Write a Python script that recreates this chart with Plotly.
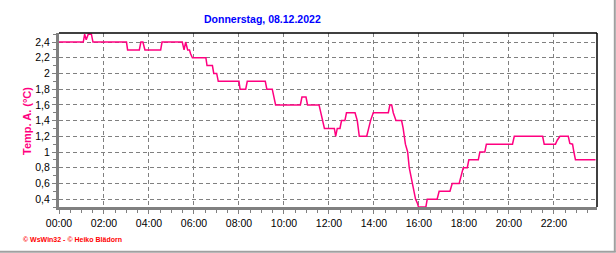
import plotly.graph_objects as go

# Time of day in hours and outdoor temperature (°C)
hours = [0.0, 1.08, 1.14, 1.21, 1.30, 1.44, 1.51, 3.0, 3.05, 3.57, 3.64, 3.73, 3.82,
         4.52, 4.58, 5.48, 5.56, 5.63, 5.72, 5.80, 5.85, 5.93, 6.53, 6.58, 6.82, 6.88,
         7.01, 7.08, 8.0, 8.05, 8.3, 8.37, 9.17, 9.24, 9.48, 9.55, 9.63, 10.73, 10.8,
         10.98, 11.05, 11.56, 11.63, 11.7, 11.8, 12.24, 12.3, 12.37, 12.49, 12.56, 12.71,
         12.78, 13.16, 13.26, 13.35, 13.68, 13.75, 13.85, 13.97, 14.64, 14.71, 14.79,
         14.86, 14.98, 15.23, 15.3, 15.4, 15.5, 15.57, 15.64, 15.7, 15.78, 15.85, 15.93,
         15.98, 16.31, 16.37, 16.81, 16.9, 17.38, 17.48, 17.79, 17.87, 17.97, 18.15,
         18.22, 18.64, 18.71, 18.93, 19.0, 20.16, 20.24, 21.5, 21.57, 22.07, 22.15,
         22.27, 22.64, 22.71, 22.83, 22.89, 22.96, 23.85]
temps = [2.4, 2.4, 2.5, 2.43, 2.5, 2.5, 2.4, 2.4, 2.3, 2.3, 2.4, 2.4, 2.3,
         2.3, 2.4, 2.4, 2.3, 2.4, 2.3, 2.3, 2.25, 2.2, 2.2, 2.1, 2.1, 2.0,
         2.0, 1.9, 1.9, 1.8, 1.8, 1.9, 1.9, 1.8, 1.8, 1.7, 1.6, 1.6, 1.7,
         1.7, 1.6, 1.6, 1.5, 1.4, 1.3, 1.3, 1.2, 1.3, 1.3, 1.4, 1.4,
         1.5, 1.5, 1.4, 1.2, 1.2, 1.3, 1.4, 1.5, 1.5, 1.6, 1.6,
         1.5, 1.4, 1.4, 1.3, 1.1, 1.0, 0.8, 0.7, 0.6, 0.5, 0.4, 0.35,
         0.3, 0.3, 0.4, 0.4, 0.5, 0.5, 0.6, 0.6, 0.7, 0.8, 0.8,
         0.9, 0.9, 1.0, 1.0, 1.1, 1.1, 1.2, 1.2, 1.1, 1.1, 1.15,
         1.2, 1.2, 1.11, 1.1, 1.0, 0.9, 0.9]

x_tick_vals = [0, 2, 4, 6, 8, 10, 12, 14, 16, 18, 20, 22]
x_tick_text = ["00:00", "02:00", "04:00", "06:00", "08:00", "10:00",
               "12:00", "14:00", "16:00", "18:00", "20:00", "22:00"]
y_tick_vals = [0.4, 0.6, 0.8, 1.0, 1.2, 1.4, 1.6, 1.8, 2.0, 2.2, 2.4]
y_tick_text = ["0,4", "0,6", "0,8", "1", "1,2", "1,4", "1,6", "1,8", "2", "2,2", "2,4"]

title_text = "Donnerstag, 08.12.2022"
y_title = "Temp. A. (°C)"
footer = "© WsWin32 - © Heiko Blädorn"

PINK = "#FF0080"
GRAY = "#808080"

W, H = 616, 253
L, R, T, B = 59, 19, 33, 46
PW, PH = W - L - R, H - T - B

fig = go.Figure()
fig.add_trace(go.Scatter(x=hours, y=temps, mode="lines",
                         line=dict(color=PINK, width=1.5), hoverinfo="skip"))

font_main = "Liberation Sans, Arial, sans-serif"

fig.update_layout(
    width=W, height=H,
    margin=dict(l=L, r=R, t=T, b=B, pad=0),
    paper_bgcolor="white", plot_bgcolor="white",
    showlegend=False,
    font=dict(family=font_main, size=10.5, color="black"),
    xaxis=dict(range=[0, 23.917], tickmode="array", tickvals=x_tick_vals,
               ticktext=x_tick_text, showgrid=True, gridcolor=GRAY,
               griddash="4px,3px", gridwidth=1, zeroline=False,
               showline=True, linecolor=GRAY, linewidth=3,
               ticks="outside", ticklen=4, tickcolor=GRAY, tickwidth=1,
               minor=dict(tickmode="linear", tick0=0, dtick=0.5, ticks="outside",
                          ticklen=3, tickcolor=GRAY, showgrid=False),
               tickfont=dict(size=10.5, color="black"), fixedrange=True),
    yaxis=dict(range=[0.3, 2.515], tickmode="array", tickvals=y_tick_vals,
               ticktext=y_tick_text, showgrid=True, gridcolor=GRAY,
               griddash="4px,3px", gridwidth=1, zeroline=False,
               showline=True, linecolor=GRAY, linewidth=3,
               ticks="outside", ticklen=4, tickcolor=GRAY, tickwidth=1,
               minor=dict(tickmode="linear", tick0=0.3, dtick=0.1, ticks="outside",
                          ticklen=3, tickcolor=GRAY, showgrid=False),
               tickfont=dict(size=10.5, color="black"), fixedrange=True),
)

def px_x(p):
    return (p - L) / PW

def px_y(p):
    return (H - B - p) / PH

fig.add_annotation(text="<b>" + title_text + "</b>", xref="paper", yref="paper",
                   x=px_x(262), y=px_y(19), xanchor="center", yanchor="middle",
                   showarrow=False,
                   font=dict(family=font_main, size=10.5, color="#0000FF"))
fig.add_annotation(text="<b>" + y_title + "</b>", xref="paper", yref="paper",
                   x=px_x(27), y=px_y(121), xanchor="center", yanchor="middle",
                   textangle=-90, showarrow=False,
                   font=dict(family=font_main, size=11, color=PINK))
fig.add_annotation(text="<b>" + footer + "</b>", xref="paper", yref="paper",
                   x=px_x(21), y=px_y(239), xanchor="left", yanchor="middle",
                   showarrow=False,
                   font=dict(family=font_main, size=7, color="#FF0000"))

# top and right black border
fig.add_shape(type="line", xref="paper", yref="paper", x0=0, x1=1, y0=1, y1=1,
              line=dict(color="black", width=1.5))
fig.add_shape(type="line", xref="paper", yref="paper", x0=1, x1=1, y0=0, y1=1,
              line=dict(color="black", width=1.5))
# outer light-gray frame on right and bottom
fig.add_shape(type="line", xref="paper", yref="paper", x0=px_x(614.8), x1=px_x(614.8),
              y0=px_y(252), y1=px_y(0), line=dict(color="#A0A0A0", width=2))
fig.add_shape(type="line", xref="paper", yref="paper", x0=px_x(0), x1=px_x(615.8),
              y0=px_y(251.8), y1=px_y(251.8), line=dict(color="#A0A0A0", width=2))

fig.write_html("out.html", config={"displayModeBar": False})
